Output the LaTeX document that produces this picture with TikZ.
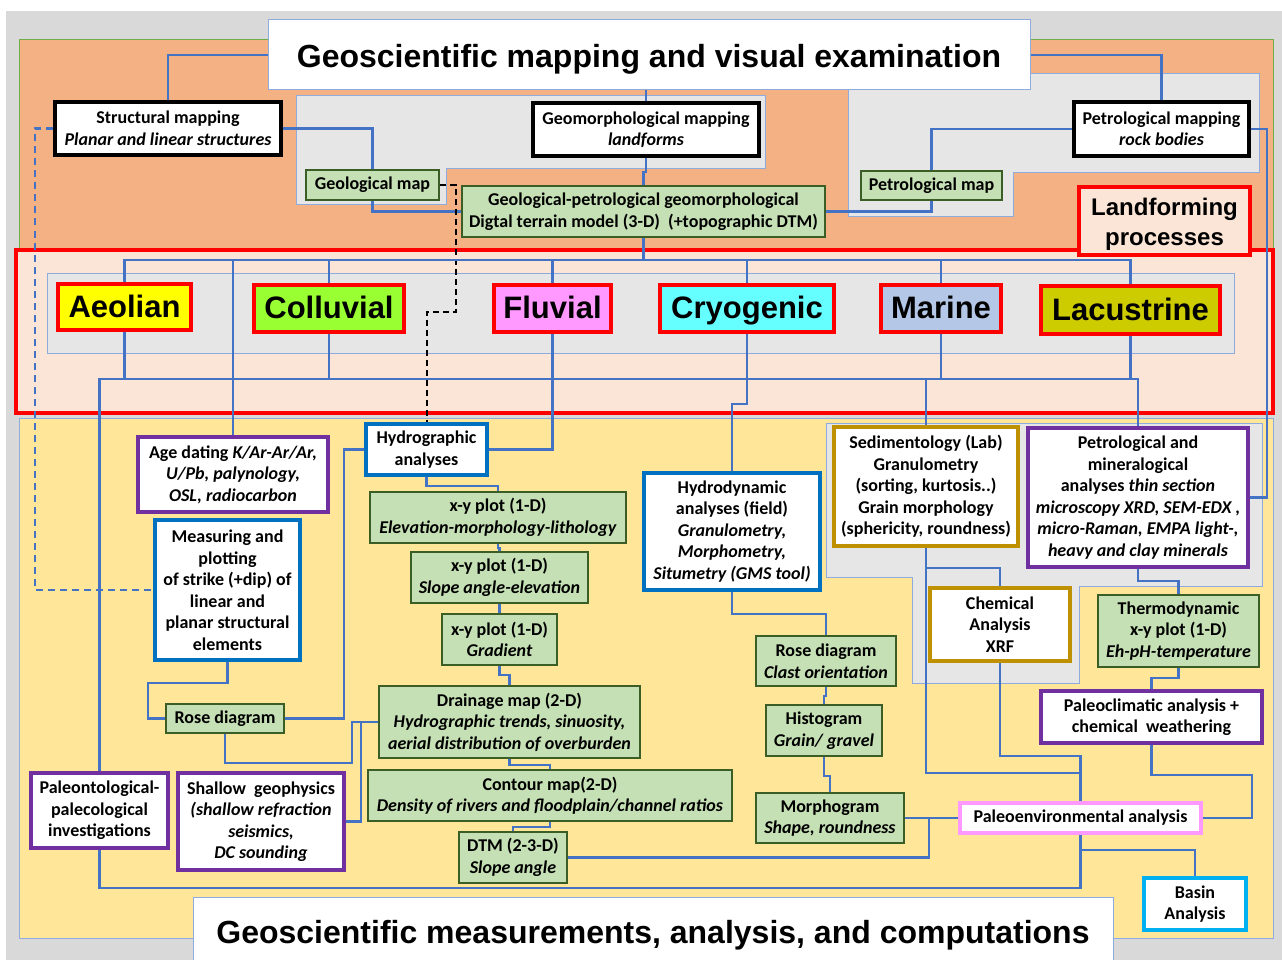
\documentclass[tikz,border=0pt]{standalone}
\usepackage{fontspec}
\setmainfont{Carlito}
\newfontfamily\arialf{Liberation Sans}
\usetikzlibrary{calc}
\pgfdeclarelayer{bglayer}
\pgfdeclarelayer{connlayer}
\pgfsetlayers{bglayer,connlayer,main}
\definecolor{outergrey}{HTML}{D9D9D9}
\definecolor{panelgrey}{HTML}{E6E6E6}
\definecolor{panelline}{HTML}{8FAADC}
\definecolor{orangefill}{HTML}{F4B183}
\definecolor{greenline}{HTML}{70AD47}
\definecolor{peach}{HTML}{FBE5D6}
\definecolor{yellowfill}{HTML}{FFE699}
\definecolor{connblue}{HTML}{4472C4}
\definecolor{grnfill}{HTML}{C5E0B4}
\definecolor{grndraw}{HTML}{3B5E27}
\definecolor{bluedraw}{HTML}{0070C0}
\definecolor{purdraw}{HTML}{7030A0}
\definecolor{golddraw}{HTML}{BF9000}
\definecolor{pinkdraw}{HTML}{FF99FF}
\definecolor{cyandraw}{HTML}{00B0F0}
\definecolor{aeolc}{HTML}{FFFF00}
\definecolor{collc}{HTML}{99FF33}
\definecolor{fluvc}{HTML}{FF99FF}
\definecolor{cryoc}{HTML}{66FFFF}
\definecolor{marc}{HTML}{B4C7E7}
\definecolor{lacc}{HTML}{CCCC00}
\tikzset{
  sz/.style 2 args={minimum width=#1, minimum height=#2},
  bx/.style={rectangle, inner sep=0pt, align=center, fill=white,
    font=\bfseries\fontsize{18}{21.5}\selectfont},
  blkbox/.style={bx, draw=black, line width=3.5pt},
  grnbox/.style={bx, fill=grnfill, draw=grndraw, line width=2.2pt},
  blubox/.style={bx, draw=bluedraw, line width=4pt},
  purbox/.style={bx, draw=purdraw, line width=3.5pt},
  goldbox/.style={bx, draw=golddraw, line width=4pt},
  procbox/.style={rectangle, inner sep=0pt, draw=red, line width=4pt,
    text height=25pt, text depth=5pt,
    font=\arialf\bfseries\fontsize{31}{36}\selectfont},
  titlebox/.style={rectangle, inner sep=0pt, fill=white, draw=panelline, line width=1pt,
    text height=27pt, text depth=2pt,
    font=\arialf\bfseries\fontsize{32}{38}\selectfont},
  panel/.style={fill=panelgrey, draw=panelline, line width=1pt},
  conn/.style={draw=connblue, line width=2.3pt},
  blkdash/.style={draw=black, line width=2pt, dash pattern=on 6pt off 4pt},
  bludash/.style={conn, dash pattern=on 7pt off 5pt},
}
\begin{document}
\begin{tikzpicture}[x=1pt,y=-1pt]
\useasboundingbox (0,0) rectangle (1282,960);

% ---------------- nodes ----------------
\node[titlebox, sz={762}{70}] (title) at (649,55) {Geoscientific mapping and visual examination};
\node[blkbox, sz={226}{53}] (struct) at (168,128.5) {Structural mapping\\\textit{Planar and linear structures}};
\node[blkbox, sz={226}{53}] (geomorph) at (646,129.5) {Geomorphological mapping\\\textit{landforms}};
\node[blkbox, sz={175}{54}] (petromap) at (1161.5,129) {Petrological mapping\\\textit{rock bodies}};
\node[grnbox, sz={133}{30}] (geomap) at (372.5,185) {Geological map};
\node[grnbox, sz={363}{51}] (dtm) at (643.5,211.5) {Geological-petrological geomorphological\\Digtal terrain model (3-D)~ (+topographic DTM)};
\node[grnbox, sz={141}{29}] (petmap) at (931.5,185.5) {Petrological map};
\node[rectangle, inner sep=0pt, align=center, fill=peach, draw=red, line width=4.5pt, sz={171}{68},
  text height=53.5pt, text depth=5pt,
  font=\arialf\bfseries\fontsize{24}{30}\selectfont] (landform) at (1164.5,221) {Landforming\\processes};

\node[procbox, fill=aeolc, sz={133}{46}] (aeolian) at (124.5,307) {Aeolian};
\node[procbox, fill=collc, sz={150}{47}] (colluvial) at (329,308.5) {Colluvial};
\node[procbox, fill=fluvc, sz={117}{47}] (fluvial) at (552.5,308.5) {Fluvial};
\node[procbox, fill=cryoc, sz={174}{47}] (cryogenic) at (747,308.5) {Cryogenic};
\node[procbox, fill=marc, sz={120}{47}] (marine) at (941,308.5) {Marine};
\node[procbox, fill=lacc, sz={179}{48}] (lacustrine) at (1130.5,310) {Lacustrine};

\node[purbox, sz={190}{75}] (age) at (233,474.5) {Age dating \textit{K/Ar-Ar/Ar,}\\\textit{U/Pb, palynology,}\\\textit{OSL, radiocarbon}};
\node[blubox, sz={145}{140}] (measure) at (227.5,590) {Measuring and\\plotting\\of strike (+dip) of\\linear and\\planar structural\\elements};
\node[blubox, sz={121}{51}] (hydrog) at (426.5,449.5) {Hydrographic\\analyses};
\node[grnbox, sz={256}{51}] (xy1) at (498,517.5) {x-y plot (1-D)\\\textit{Elevation-morphology-lithology}};
\node[grnbox, sz={177}{51}] (xy2) at (499.5,577.5) {x-y plot (1-D)\\\textit{Slope angle-elevation}};
\node[grnbox, sz={115}{51}] (xy3) at (499.5,639.5) {x-y plot (1-D)\\\textit{Gradient}};
\node[grnbox, sz={261}{72}] (drain) at (509.5,722) {Drainage map (2-D)\\\textit{Hydrographic trends, sinuosity,}\\\textit{aerial distribution of overburden}};
\node[grnbox, sz={364}{51}] (contour) at (550,795.5) {Contour map(2-D)\\\textit{Density of rivers and floodplain/channel ratios}};
\node[grnbox, sz={108}{51}] (dtm2) at (513,857.5) {DTM (2-3-D)\\\textit{Slope angle}};
\node[grnbox, sz={118}{29}] (rose1) at (225,718.5) {Rose diagram};
\node[purbox, sz={137}{75}] (paleont) at (99.5,810.5) {Paleontological-\\palecological\\investigations};
\node[purbox, sz={166}{97}] (shallow) at (261,821.5) {Shallow~ geophysics\\\textit{(shallow refraction}\\\textit{seismics,}\\\textit{DC sounding}};
\node[blubox, sz={176}{117}] (hydrod) at (732,531.5) {Hydrodynamic\\analyses (field)\\\textit{Granulometry,}\\\textit{Morphometry,}\\\textit{Situmetry (GMS tool)}};
\node[grnbox, sz={140}{50}] (rose2) at (826,661) {Rose diagram\\\textit{Clast orientation}};
\node[grnbox, sz={116}{51}] (histo) at (824,730.5) {Histogram\\\textit{Grain/ gravel}};
\node[grnbox, sz={148}{50}] (morph) at (830,818) {Morphogram\\\textit{Shape, roundness}};
\node[goldbox, sz={184}{119}] (sedim) at (926,486.5) {Sedimentology (Lab)\\Granulometry\\(sorting, kurtosis..)\\Grain morphology\\(sphericity, roundness)};
\node[purbox, sz={220}{139}] (petmin) at (1138,497.5) {Petrological and\\mineralogical\\analyses \textit{thin section}\\\textit{microscopy XRD, SEM-EDX ,}\\\textit{micro-Raman, EMPA light-,}\\\textit{heavy and clay minerals}};
\node[goldbox, sz={140}{73}] (chem) at (1000,624.5) {Chemical\\Analysis\\XRF};
\node[grnbox, sz={161}{72}] (thermo) at (1178.5,631) {Thermodynamic\\x-y plot (1-D)\\\textit{Eh-pH-temperature}};
\node[purbox, sz={221}{52}] (paleocl) at (1151.5,717) {Paleoclimatic analysis +\\chemical~ weathering};
\node[bx, draw=pinkdraw, line width=4pt, sz={241}{30}] (paleoenv) at (1080.5,818) {Paleoenvironmental analysis};
\node[bx, draw=cyandraw, line width=4pt, sz={102}{52}] (basin) at (1195,904) {Basin\\Analysis};
\node[titlebox, sz={920}{66}, text height=28pt, text depth=1pt] (btitle) at (653,930) {Geoscientific measurements, analysis, and computations};

\coordinate (busT) at (124.5,260);
\coordinate (busB) at (99,379);
\coordinate (b888) at (99,888);

% ---------------- backgrounds ----------------
\begin{pgfonlayer}{bglayer}
\fill[white] (0,0) rectangle (1282,960);
\fill[outergrey] (6,11) rectangle (1282,960);
\filldraw[fill=orangefill, draw=greenline, line width=1pt] (19,40) rectangle (1273,250);
\filldraw[panel] (296,96) -- (765,96) -- (765,169) -- (446,169) -- (446,205) -- (296,205) -- cycle;
\filldraw[panel] (848,74) -- (1259,74) -- (1259,173) -- (1013,173) -- (1013,217) -- (848,217) -- cycle;
\filldraw[fill=peach, draw=red, line width=3.5pt] (16,250) rectangle (1273,413);
\filldraw[panel] (47,273) rectangle (1234,353);
\filldraw[fill=yellowfill, draw=panelline, line width=1pt] (19,418) rectangle (1273,938);
\filldraw[panel] (826,423) -- (1262,423) -- (1262,586) -- (1079,586) -- (1079,683) -- (912,683) -- (912,577) -- (826,577) -- cycle;
\end{pgfonlayer}

% ---------------- connectors ----------------
\begin{pgfonlayer}{connlayer}
% top section
\draw[conn] (title.west) -| (struct.north);
\draw[conn] (struct.east) -| (geomap.north);
\draw[conn] (title.south -| geomorph.north) -- (geomorph.north);
\draw[conn] (geomorph.south) -- ++(0,14) -| (dtm.north);
\draw[conn] (geomap.south) |- (dtm.west);
\draw[conn] (title.east) -| (petromap.north);
\draw[conn] (petromap.west) -| (petmap.north);
\draw[conn] (petmap.south) |- (dtm.east);
\draw[conn] (petromap.east) -- ++(16,0) |- (petmin.east);
\draw[bludash] (struct.west) -- ++(-18,0) |- (measure.west);
\draw[blkdash] (geomap.east) -| (456,312) -| (hydrog.north);
% process band
\draw[conn] (dtm.south) -- (dtm.south |- busT);
\draw[conn] (aeolian.north) |- (lacustrine.north |- busT) -- (lacustrine.north);
\draw[conn] (colluvial.north) -- (colluvial.north |- busT);
\draw[conn] (fluvial.north) -- (fluvial.north |- busT);
\draw[conn] (cryogenic.north) -- (cryogenic.north |- busT);
\draw[conn] (marine.north) -- (marine.north |- busT);
\draw[conn] (age.north) -- (age.north |- busT);
\draw[conn, line width=2.8pt] (paleont.north) |- (petmin.north |- busB) -- (petmin.north);
\draw[conn] (aeolian.south) -- (aeolian.south |- busB);
\draw[conn] (colluvial.south) -- (colluvial.south |- busB);
\draw[conn] (fluvial.south) |- (hydrog.east);
\draw[conn] (marine.south) -- (marine.south |- busB);
\draw[conn] (lacustrine.south) -- (lacustrine.south |- busB);
\draw[conn] (sedim.north) -- (sedim.north |- busB);
\draw[conn] (cryogenic.south) -- ++(0,70) -| (hydrod.north);
% lower left
\draw[conn] (measure.south) -- ++(0,21) -| ($(rose1.west)+(-17,0)$) -- (rose1.west);
\draw[conn] (rose1.east) -- ++(59,0) |- (hydrog.west);
\draw[conn] (rose1.south) -- ++(0,29) -| ($(drain.west)+(-26,0)$) -- (drain.west);
\draw[conn] (shallow.east) -| ($(drain.west)+(-17,0)$);
% hydrographic chain
\draw[conn] (hydrog.south) -- ++(0,9) -| (xy1.north);
\draw[conn] (xy1.south) -- ++(0,4) -| (xy2.north);
\draw[conn] (xy2.south) -- (xy3.north);
\draw[conn] (xy3.south) -- ++(0,9) -| (drain.north);
\draw[conn] (drain.south) -- ++(0,6) -| (contour.north);
\draw[conn] (contour.south) -- ++(0,5) -| (dtm2.north);
\draw[conn] (dtm2.east) -| ($(morph.east)+(24,0)$);
% hydrodynamic chain
\draw[conn] (hydrod.south) -- ++(0,22) -| (rose2.north);
\draw[conn] (rose2.south) -- ++(0,9) -| (histo.north);
\draw[conn] (histo.south) -- ++(0,19) -| (morph.north);
\draw[conn] (morph.east) -- (paleoenv.west);
% right side
\draw[conn] (paleoenv.south) -- ++(0,15) -| (basin.north);
\draw[conn] (paleont.south) |- (paleoenv.south |- b888) -- (paleoenv.south);
\draw[conn] (paleoenv.east) -- ++(49,0) |- ($(paleocl.south)+(0,30)$) -- (paleocl.south);
\draw[conn] (paleocl.north) -- ++(0,-11) -| (thermo.south);
\draw[conn] (thermo.north) -- ++(0,-13) -| (petmin.south);
\draw[conn] (sedim.south) |- ($(paleoenv.north)+(0,-28)$) -- (paleoenv.north);
\draw[conn] (sedim.south) -- ++(0,20) -| (chem.north);
\draw[conn] (chem.south) |- ($(paleoenv.north)+(0,-45)$) -- (paleoenv.north);
\end{pgfonlayer}
\end{tikzpicture}
\end{document}
